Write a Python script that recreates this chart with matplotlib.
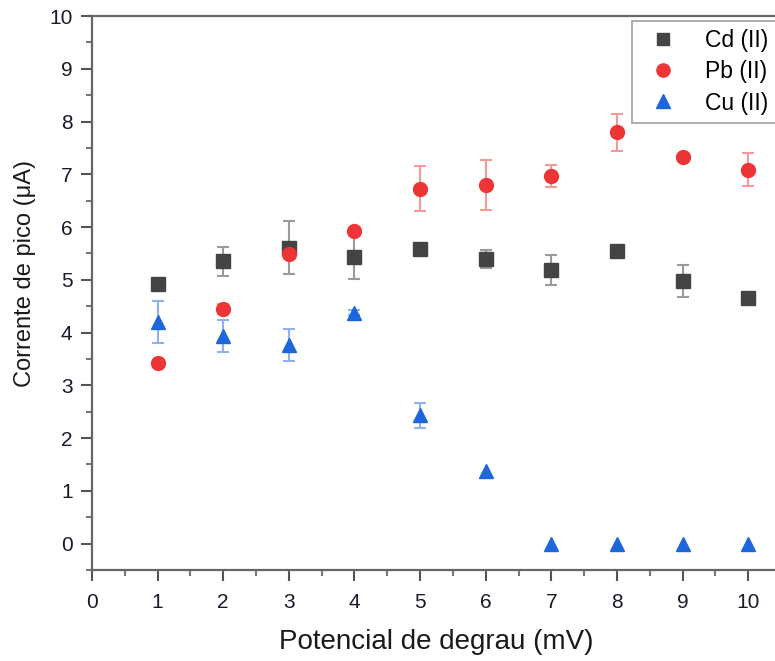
import numpy as np
import matplotlib.pyplot as plt
from matplotlib.ticker import MultipleLocator

plt.rcParams["font.family"] = ["Liberation Sans", "DejaVu Sans"]

x = [1, 2, 3, 4, 5, 6, 7, 8, 9, 10]

cd = [4.93, 5.35, 5.61, 5.44, 5.59, 5.40, 5.19, 5.54, 4.98, 4.66]
cd_err = [0.0, 0.27, 0.50, 0.42, 0.0, 0.17, 0.28, 0.0, 0.31, 0.0]

pb = [3.42, 4.45, 5.48, 5.93, 6.73, 6.80, 6.96, 7.80, 7.33, 7.09]
pb_err = [0.0, 0.10, 0.0, 0.0, 0.42, 0.47, 0.21, 0.35, 0.0, 0.32]

cu = [4.20, 3.93, 3.76, 4.38, 2.43, 1.37, 0.0, 0.0, 0.0, 0.0]
cu_err = [0.40, 0.30, 0.30, 0.05, 0.23, 0.0, 0.0, 0.0, 0.0, 0.0]

series = [
    ("Cd (II)", cd, cd_err, "s", "#444444", "#9a9a9a", 9.5),
    ("Pb (II)", pb, pb_err, "o", "#ee3535", "#f59a9a", 10),
    ("Cu (II)", cu, cu_err, "^", "#1e66dc", "#8fb2ee", 10.5),
]

fig = plt.figure(figsize=(7.75, 6.61), dpi=100)
ax = fig.add_axes([92 / 775, 1 - 570 / 661, (781 - 92) / 775, (570 - 16) / 661])

handles = []
for label, y, err, mk, col, ecol, ms in series:
    # points without a measured spread get no bar or cap
    yerr = np.where(np.array(err) > 0, err, np.nan)
    eb = ax.errorbar(x, y, yerr=yerr, fmt=mk, color=col, ecolor=ecol, ms=ms,
                     mec=col, elinewidth=1.5, capsize=4.5, capthick=1.5,
                     label=label)
    handles.append(eb[0])

ax.set_xlim(0, 10.5)
ax.set_ylim(-0.5, 10)
ax.xaxis.set_major_locator(MultipleLocator(1))
ax.xaxis.set_minor_locator(MultipleLocator(0.5))
ax.yaxis.set_major_locator(MultipleLocator(1))
ax.yaxis.set_minor_locator(MultipleLocator(0.5))
ax.set_yticks(range(0, 11))

for s in ax.spines.values():
    s.set_color("#666666")
    s.set_linewidth(1.6)

ax.tick_params(which="major", direction="out", length=8, width=1.5,
               color="#555555", labelsize=15, labelcolor="#1a1a2a", pad=6)
ax.tick_params(axis="x", which="major", pad=8.5)
ax.tick_params(which="minor", direction="out", length=4.5, width=1.5,
               color="#777777")

ax.set_xlabel("Potencial de degrau (mV)", fontsize=20, color="#1a1a1a", labelpad=12)
ax.set_ylabel("Corrente de pico (μA)", fontsize=17, color="#1a1a1a")
ax.yaxis.set_label_coords(-0.081, 0.536)

leg = ax.legend(handles, [s[0] for s in series], loc="upper left",
                bbox_to_anchor=(632 / 775, 1 - 21 / 661),
                bbox_transform=fig.transFigure, fontsize=16.5, frameon=True,
                fancybox=False, borderpad=0.35, labelspacing=0.36,
                handletextpad=0.85, handlelength=2.0, borderaxespad=0,
                markerscale=0.95)
leg.get_frame().set_edgecolor("#888888")
leg.get_frame().set_linewidth(1.2)

fig.savefig("out.png", dpi=100)
